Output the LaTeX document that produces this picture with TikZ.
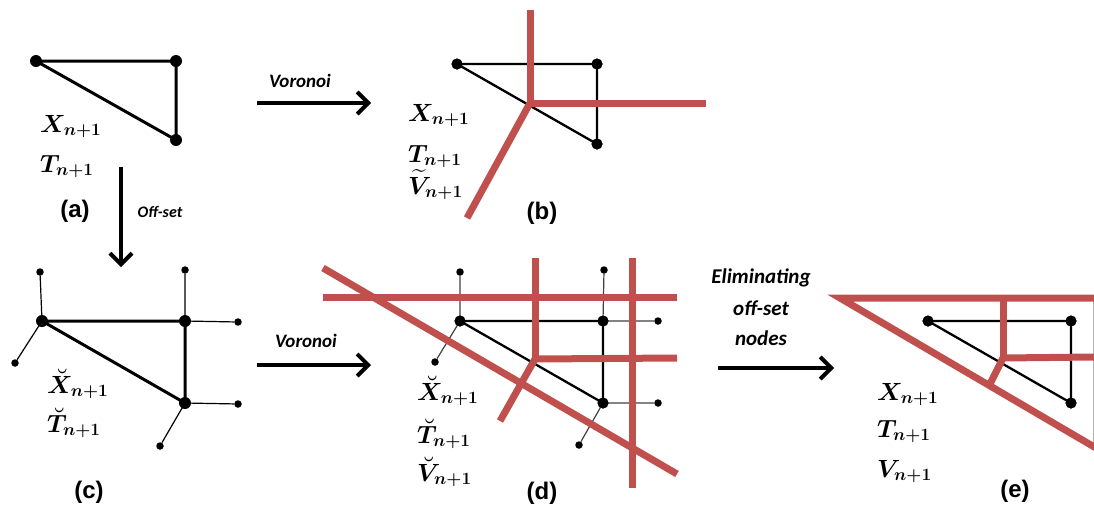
\documentclass[tikz,border=0pt]{standalone}
\usepackage{amsmath}
\usepackage{fontspec}
\usetikzlibrary{arrows.meta}
\newfontfamily\calib{Carlito}
\newfontfamily\arialf{Liberation Sans}
\definecolor{vred}{RGB}{192,80,77}
\DeclareMathSizes{24}{24}{18}{13}
\begin{document}
\begin{tikzpicture}[x=1pt,y=-1pt,
  bigdot/.style={circle,fill=black,inner sep=0pt,minimum size=12pt},
  meddot/.style={circle,fill=black,inner sep=0pt,minimum size=11pt},
  smalldot/.style={circle,fill=black,inner sep=0pt,minimum size=7.5pt},
  thickedge/.style={line width=3pt},
  edge/.style={line width=2.3pt},
  thinedge/.style={line width=1.2pt,black!75},
  vor/.style={line width=7pt,vred},
  bigarrow/.style={line width=4pt,-{Straight Barb[length=11pt,width=22pt,line width=4pt]}},
  lab/.style={font=\arialf\bfseries\fontsize{24}{24}\selectfont,inner sep=0pt},
  arrlab/.style={font=\calib\bfseries\itshape\fontsize{19}{19}\selectfont,inner sep=0pt},
  mlab/.style={font=\fontsize{24}{24}\selectfont\boldmath,inner sep=0pt,anchor=base west,text depth=3pt}]
\useasboundingbox (0,0) rectangle (1094,509);

% ---------------- panel (a)
\node[bigdot] (a1) at (36,61) {};
\node[bigdot] (a2) at (176,61) {};
\node[bigdot] (a3) at (176,140) {};
\draw[thickedge] (a1.center) -- (a2.center) -- (a3.center) -- cycle;
\node[mlab] (ax) at (40,132) {$X_{n+1}$};
\node[mlab] (at) at (40,172) {$T_{n+1}$};
\node[lab] (alab) at (75,211) {(a)};

% off-set arrow
\coordinate (os1) at (121,167);
\coordinate (os2) at (121,267);
\draw[bigarrow] (os1) -- (os2);
\node[arrlab,font=\calib\bfseries\itshape\fontsize{16}{16}\selectfont] (oslab) at (160,212) {Off-set};

% Voronoi arrow (top)
\coordinate (v1s) at (257,103);
\coordinate (v1e) at (371,103);
\draw[bigarrow] (v1s) -- (v1e);
\node[arrlab] (v1lab) at (300,81) {Voronoi};

% ---------------- panel (b)
\node[meddot] (b1) at (457,64) {};
\node[meddot] (b2) at (597,64) {};
\node[meddot] (b3) at (597,144) {};
\draw[edge] (b1.center) -- (b2.center) -- (b3.center) -- cycle;
\coordinate (bv) at (530,103);
\coordinate (bvt) at (530,10);
\coordinate (bvr) at (706,103);
\coordinate (bvd) at (467,218);
\draw[vor] (bvt) -- (bv);
\draw[vor] (bv) -- (bvr);
\draw[vor] (bv) -- (bvd);
\node[meddot] at (b1) {};
\node[meddot] at (b2) {};
\node[meddot] at (b3) {};
\node[mlab] (bx) at (408,121) {$X_{n+1}$};
\node[mlab] (bt) at (408,162) {$T_{n+1}$};
\node[mlab] (bvl) at (408,194) {$\widetilde{V}_{n+1}$};
\node[lab] (blab) at (542,213) {(b)};

% ---------------- panel (c)
\node[bigdot] (c1) at (42,321) {};
\node[bigdot] (c2) at (185,321) {};
\node[bigdot] (c3) at (185,403) {};
\node[smalldot] (c1u) at (40,272) {};
\node[smalldot] (c1d) at (15,363) {};
\node[smalldot] (c2u) at (185,270) {};
\node[smalldot] (c2r) at (238,322) {};
\node[smalldot] (c3r) at (238,404) {};
\node[smalldot] (c3d) at (160,446) {};
\draw[thinedge,black] (c1.center) -- (c1u) (c1.center) -- (c1d)
  (c2.center) -- (c2u) (c2.center) -- (c2r)
  (c3.center) -- (c3r) (c3.center) -- (c3d);
\draw[thickedge] (c1.center) -- (c2.center) -- (c3.center) -- cycle;
\node[mlab] (cx) at (47,393) {$\breve{X}_{n+1}$};
\node[mlab] (ct) at (47,432) {$\breve{T}_{n+1}$};
\node[lab] (clab) at (89,492) {(c)};

% Voronoi arrow (bottom)
\coordinate (v2s) at (257,365);
\coordinate (v2e) at (371,365);
\draw[bigarrow] (v2s) -- (v2e);
\node[arrlab] (v2lab) at (306,341) {Voronoi};

% ---------------- panel (d)
\node[meddot] (d1) at (460,321) {};
\node[meddot] (d2) at (603,321) {};
\node[meddot] (d3) at (603,403) {};
\node[smalldot] (d1u) at (460,272) {};
\node[smalldot] (d1d) at (435,362) {};
\node[smalldot] (d2u) at (604,270) {};
\node[smalldot] (d2r) at (658,321) {};
\node[smalldot] (d3r) at (658,403) {};
\node[smalldot] (d3d) at (579,445) {};
\draw[thinedge] (d1.center) -- (d1u) (d1.center) -- (d1d)
  (d2.center) -- (d2u) (d2.center) -- (d2r)
  (d3.center) -- (d3r) (d3.center) -- (d3d);
\draw[edge] (d1.center) -- (d2.center) -- (d3.center) -- cycle;
\coordinate (dh1) at (323,297);
\coordinate (dh2) at (677,297);
\coordinate (dg1) at (323,268);
\coordinate (dg2) at (677,474);
\coordinate (dva) at (535,258);
\coordinate (dvj) at (535,359);
\coordinate (dvr) at (677,358);
\coordinate (dvd) at (500,421);
\coordinate (dw1) at (632,258);
\coordinate (dw2) at (632,488);
\draw[vor] (dh1) -- (dh2);
\draw[vor] (dg1) -- (dg2);
\draw[vor] (dva) -- (dvj);
\draw[vor] (dvj) -- (dvr);
\draw[vor] (dvj) -- (dvd);
\draw[vor] (dw1) -- (dw2);
\node[meddot] at (d1) {};
\node[meddot] at (d2) {};
\node[meddot] at (d3) {};
\node[mlab] (dx) at (417,400) {$\breve{X}_{n+1}$};
\node[mlab] (dt) at (417,443) {$\breve{T}_{n+1}$};
\node[mlab] (dv) at (417,481) {$\breve{V}_{n+1}$};
\node[lab] (dlab) at (542,493) {(d)};

% Eliminating arrow
\coordinate (e0s) at (718,368);
\coordinate (e0e) at (834,368);
\draw[bigarrow] (e0s) -- (e0e);
\node[arrlab,font=\calib\bfseries\itshape\fontsize{21}{21}\selectfont] (el1) at (761,278) {Eliminating};
\node[arrlab,font=\calib\bfseries\itshape\fontsize{21}{21}\selectfont] (el2) at (761,308) {off-set};
\node[arrlab,font=\calib\bfseries\itshape\fontsize{21}{21}\selectfont] (el3) at (761,338) {nodes};

% ---------------- panel (e)
\node[meddot] (e1) at (928,321) {};
\node[meddot] (e2) at (1071,321) {};
\node[meddot] (e3) at (1071,403) {};
\draw[edge] (e1.center) -- (e2.center) -- (e3.center) -- cycle;
\coordinate (et0) at (840,298);
\coordinate (etr) at (1094,298);
\coordinate (edr) at (1096,448);
\coordinate (evt) at (1003,298);
\coordinate (evj) at (1003,358);
\coordinate (evr) at (1094,357);
\coordinate (evd) at (990,384);
\draw[black!30,line width=0.8pt] (1093,298) -- (1093,448);
\draw[vor,line join=miter] (etr) -- (et0) -- (edr);
\draw[vor] (evt) -- (evj);
\draw[vor] (evj) -- (evr);
\draw[vor] (evj) -- (evd);
\node[meddot] at (e1) {};
\node[meddot] at (e2) {};
\node[meddot] at (e3) {};
\node[mlab] (ex) at (877,400) {$X_{n+1}$};
\node[mlab] (et) at (877,437) {$T_{n+1}$};
\node[mlab] (ev) at (877,477) {$V_{n+1}$};
\node[lab] (elab) at (1015,491) {(e)};
\end{tikzpicture}
\end{document}
